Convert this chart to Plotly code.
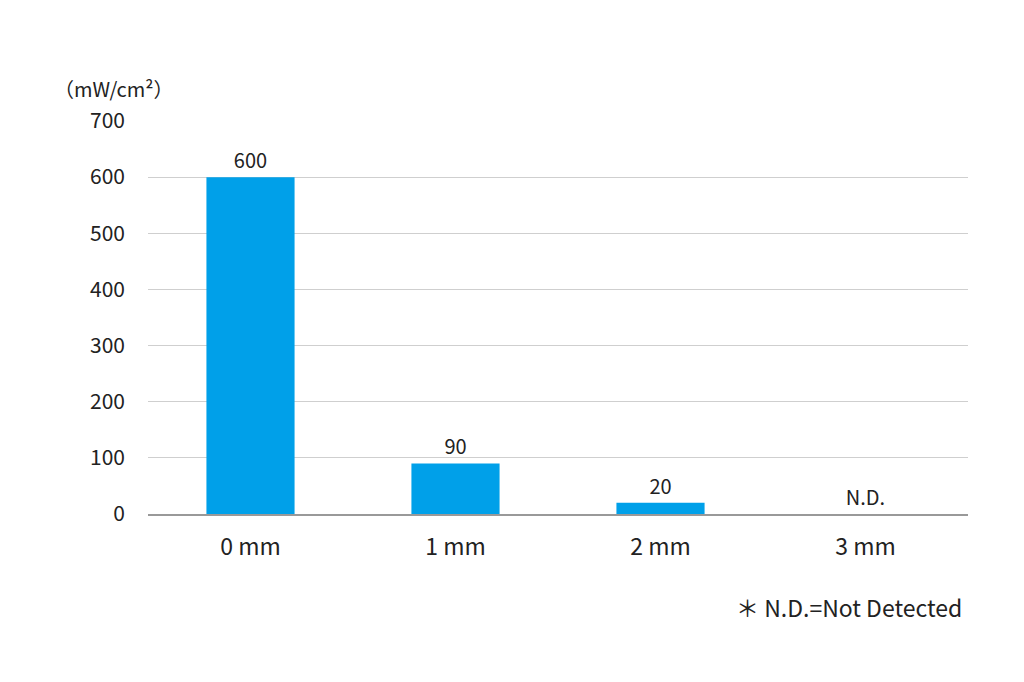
import plotly.graph_objects as go

categories = ["0 mm", "1 mm", "2 mm", "3 mm"]
values = [600, 90, 20, 0]
labels = ["600", "90", "20", "N.D."]
y_ticks = [0, 100, 200, 300, 400, 500, 600, 700]

font_family = "Noto Sans CJK JP, Noto Sans, sans-serif"

fig = go.Figure()
fig.add_trace(go.Bar(
    x=categories, y=values, text=labels, textposition="outside",
    marker_color="#00A0E9", marker_line_width=0,
    textfont=dict(size=20, color="#222222"), cliponaxis=False,
))

# page body has an 8px offset, so margins are shifted to compensate
fig.update_layout(
    width=1024, height=682,
    plot_bgcolor="white", paper_bgcolor="white",
    margin=dict(l=140, r=64, t=113, b=176),
    bargap=0.57, showlegend=False,
    font=dict(family=font_family, color="#222222"),
)
fig.update_yaxes(
    range=[0, 700], tickvals=y_ticks, showgrid=True, gridcolor="#CFCFCF",
    gridwidth=1, zeroline=False, tickfont=dict(size=21), ticks="",
    ticklabelstandoff=22, showline=False,
)
fig.update_xaxes(
    showline=True, linecolor="#999999", linewidth=1.5,
    tickfont=dict(size=23), ticks="", ticklabelstandoff=12,
)

fig.add_annotation(text="（mW/cm²）", x=0, y=1.0, xref="paper", yref="paper",
                   xanchor="right", yanchor="bottom", xshift=28, yshift=16,
                   showarrow=False, font=dict(size=20))
fig.add_annotation(text="＊ N.D.=Not Detected", x=1, y=0, xref="paper", yref="paper",
                   xanchor="right", yanchor="top", xshift=-4, yshift=-74,
                   showarrow=False, font=dict(size=23))

fig.write_html("out.html")
